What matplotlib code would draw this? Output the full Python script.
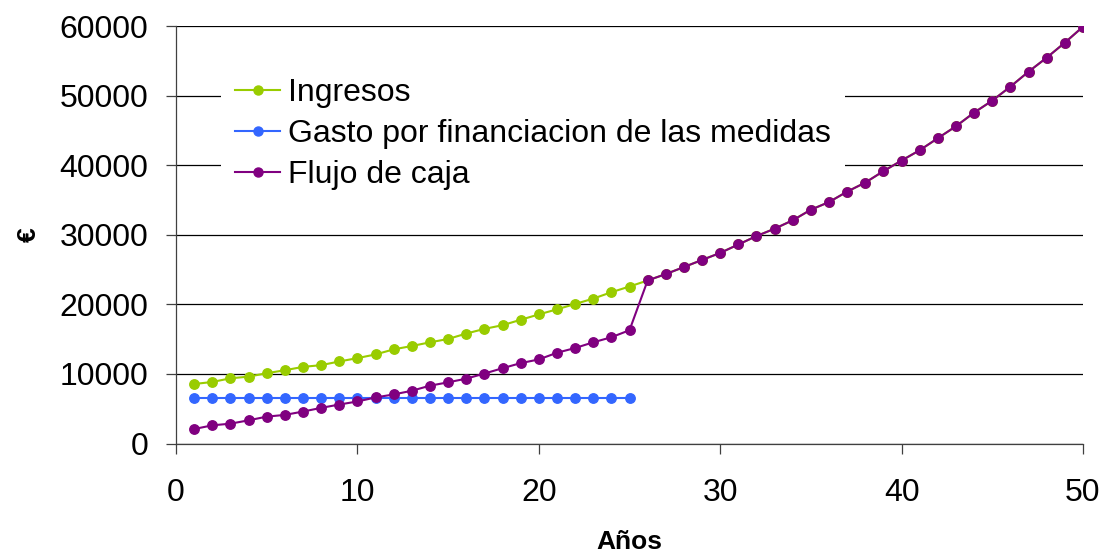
import matplotlib
matplotlib.use("Agg")
import matplotlib.pyplot as plt

plt.rcParams['font.family'] = ['Liberation Sans', 'DejaVu Sans']

years = list(range(1, 51))
ingresos = [8550, 8840, 9370, 9610, 10100, 10530, 11010, 11260, 11790, 12270,
            12800, 13530, 14010, 14540, 15020, 15800, 16470, 17000, 17780, 18550,
            19280, 20050, 20820, 21740, 22560,
            23430, 24350, 25360, 26380, 27390, 28600, 29810, 30870, 32080, 33600,
            34700, 36200, 37500, 39140, 40670, 42150, 43880, 45600, 47560, 49280,
            51290, 53440, 55450, 57610, 59900]
gasto_years = list(range(1, 26))
gasto = [6600] * 25
flujo = [2080, 2610, 2850, 3330, 3860, 4110, 4590, 5120, 5600, 6040,
         6620, 7050, 7580, 8310, 8790, 9320, 10050, 10820, 11550, 12080,
         13040, 13720, 14540, 15270, 16280,
         23430, 24350, 25360, 26380, 27390, 28600, 29810, 30870, 32080, 33600,
         34700, 36200, 37500, 39140, 40670, 42150, 43880, 45600, 47560, 49280,
         51290, 53440, 55450, 57610, 59900]
labels = ["Ingresos", "Gasto por financiacion de las medidas", "Flujo de caja"]
colors = ["#99CC00", "#3366FF", "#800080"]

W, H = 1103, 556
fig = plt.figure(figsize=(W / 100, H / 100), dpi=100)
ax = fig.add_axes([176 / W, 1 - 443.5 / H, (1083 - 176) / W, (443.5 - 26) / H])

ms = 6.8
lw = 1.5
ax.plot(years, ingresos, color=colors[0], marker='o', ms=ms, lw=lw, label=labels[0], zorder=3)
ax.plot(gasto_years, gasto, color=colors[1], marker='o', ms=ms, lw=lw, label=labels[1], zorder=4)
ax.plot(years, flujo, color=colors[2], marker='o', ms=ms, lw=lw, label=labels[2], zorder=5)

ax.set_xlim(0, 50)
ax.set_ylim(0, 60000)
ax.set_xticks(range(0, 51, 10))
ax.set_yticks(range(0, 60001, 10000))
ax.yaxis.grid(True, color='black', lw=0.9)
ax.set_axisbelow(True)
for s in ['top', 'right']:
    ax.spines[s].set_visible(False)
for s in ['left', 'bottom']:
    ax.spines[s].set_color('#404040')
    ax.spines[s].set_linewidth(0.9)
ax.tick_params(axis='both', direction='out', length=7, width=0.9, color='#404040',
               labelsize=23)
ax.tick_params(axis='x', pad=18)
ax.tick_params(axis='y', pad=13)

ax.set_xlabel("Años", fontsize=19, fontweight='bold', labelpad=16)
ax.set_ylabel("€", fontsize=19, fontweight='bold', labelpad=13)

leg = ax.legend(loc='center left', bbox_to_anchor=(221 / W, 1 - 134 / H),
                bbox_transform=fig.transFigure, borderaxespad=0,
                fontsize=23, frameon=True, fancybox=False, edgecolor='white',
                facecolor='white', framealpha=1, handlelength=1.4,
                handletextpad=0.25, labelspacing=0.35, borderpad=0.45)
leg.get_frame().set_linewidth(0)
leg.set_zorder(2.5)
for h in leg.legend_handles:
    h.set_markersize(6.5)

fig.savefig("out.png", dpi=100)
